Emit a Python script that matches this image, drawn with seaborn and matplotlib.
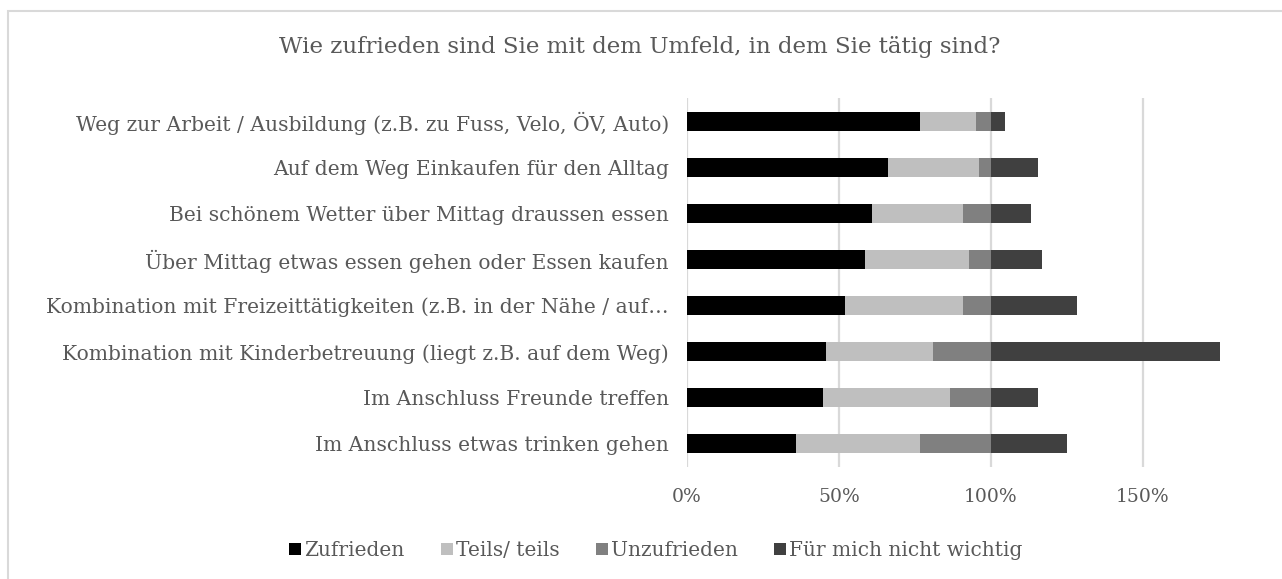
import matplotlib
matplotlib.use('Agg')
import matplotlib.pyplot as plt
from matplotlib.lines import Line2D
from matplotlib.patches import Rectangle
import seaborn as sns
import pandas as pd
import numpy as np

# data (share of respondents, 0..1)
categories = [
    'Weg zur Arbeit / Ausbildung (z.B. zu Fuss, Velo, ÖV, Auto)',
    'Auf dem Weg Einkaufen für den Alltag',
    'Bei schönem Wetter über Mittag draussen essen',
    'Über Mittag etwas essen gehen oder Essen kaufen',
    'Kombination mit Freizeittätigkeiten (z.B. in der Nähe / auf…',
    'Kombination mit Kinderbetreuung (liegt z.B. auf dem Weg)',
    'Im Anschluss Freunde treffen',
    'Im Anschluss etwas trinken gehen',
]
zufrieden = [0.765, 0.662, 0.608, 0.586, 0.521, 0.458, 0.448, 0.360]
teils = [0.187, 0.299, 0.300, 0.342, 0.387, 0.352, 0.418, 0.407]
unzufrieden = [0.048, 0.039, 0.092, 0.072, 0.092, 0.190, 0.134, 0.233]
nicht_wichtig = [0.047, 0.153, 0.132, 0.168, 0.284, 0.754, 0.156, 0.251]

series_names = ['Zufrieden', 'Teils/ teils', 'Unzufrieden', 'Für mich nicht wichtig']
colors = ['#000000', '#bfbfbf', '#808080', '#404040']
text_color = '#595959'
font = 'DejaVu Serif'

df = pd.DataFrame({
    'Kategorie': categories,
    'Zufrieden': zufrieden,
    'Teils/ teils': teils,
    'Unzufrieden': unzufrieden,
    'Für mich nicht wichtig': nicht_wichtig,
})
# cumulative sums -> draw from the longest to the shortest so they stack
cum = df[series_names].cumsum(axis=1)

sns.set_theme(style='white')
plt.rcParams['font.family'] = [font]

W, H = 1282, 579
fig = plt.figure(figsize=(W / 100, H / 100), dpi=100)
ax = fig.add_axes([687 / W, 1 - 467 / H, (1280 - 687) / W, (467 - 98) / H])

for name, col in reversed(list(zip(series_names, colors))):
    sns.barplot(x=cum[name], y=df['Kategorie'], color=col, orient='h',
                width=0.41, linewidth=0, saturation=1, ax=ax, zorder=3)

ax.set_xlim(0, 593 / 304)
ax.set_xticks([0, 0.5, 1.0, 1.5])
ax.set_xticklabels(['0%', '50%', '100%', '150%'])
ax.xaxis.grid(True, color='#d9d9d9', linewidth=1.6, zorder=0)
ax.yaxis.grid(False)
ax.set_axisbelow(True)
for s in ax.spines.values():
    s.set_visible(False)
ax.set_xlabel('')
ax.set_ylabel('')
ax.tick_params(axis='y', length=0, pad=13, labelsize=14.6, labelcolor=text_color)
ax.tick_params(axis='x', length=0, pad=15, labelsize=13.5, labelcolor=text_color)

# chart title
fig.text(640 / W, 1 - 47 / H, 'Wie zufrieden sind Sie mit dem Umfeld, in dem Sie tätig sind?',
         ha='center', va='center', fontsize=16.5, color=text_color)

# legend
handles = [Line2D([0], [0], marker='s', linestyle='none', markersize=9,
                  markerfacecolor=c, markeredgewidth=0) for c in colors]
fig.legend(handles, series_names, loc='center', bbox_to_anchor=(655 / W, 1 - 551 / H),
           ncol=4, frameon=False, fontsize=14.5, labelcolor=text_color,
           handletextpad=0.05, columnspacing=1.7, handlelength=0.8)

# light chart border like the office chart frame
fig.patches.append(Rectangle((8 / W, -0.1), 1.2, 1 - 11 / H + 0.1, transform=fig.transFigure,
                             fill=False, edgecolor='#d9d9d9', linewidth=1.5))

fig.savefig('out.png', dpi=100)
